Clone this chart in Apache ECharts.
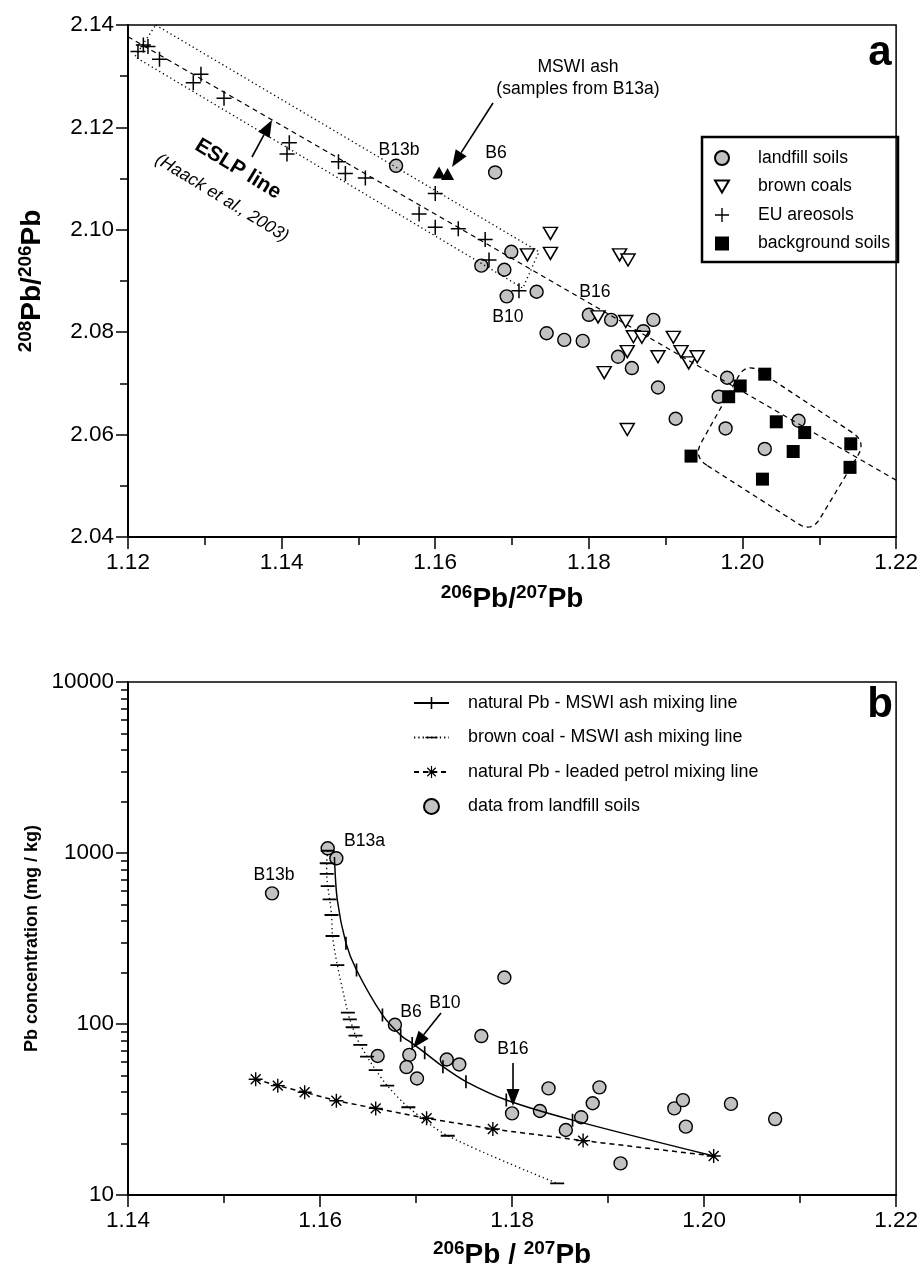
<!DOCTYPE html>
<html><head><meta charset="utf-8">
<script src="https://cdn.jsdelivr.net/npm/echarts@6/dist/echarts.min.js"></script>
<style>html,body{margin:0;padding:0;background:#fff}#c{width:921px;height:1277px}</style>
</head><body><div id="c"></div>
<script>
// ---------------- Panel a data (206Pb/207Pb , 208Pb/206Pb) ----------------
const landfillSoilsA = [[1.1549,2.1125],[1.1678,2.1112],[1.1699,2.0957],[1.1660,2.0930],[1.1690,2.0922],[1.1693,2.0870],[1.1732,2.0879],[1.1800,2.0834],[1.1829,2.0824],[1.1884,2.0824],[1.1871,2.0802],[1.1745,2.0798],[1.1768,2.0785],[1.1792,2.0783],[1.1838,2.0752],[1.1856,2.0730],[1.1890,2.0692],[1.1913,2.0631],[1.1980,2.0711],[1.1969,2.0674],[1.1978,2.0612],[1.2029,2.0572],[1.2073,2.0627]];
const brownCoals = [[1.1720,2.0951],[1.1750,2.0993],[1.1750,2.0954],[1.1840,2.0951],[1.1851,2.0941],[1.1812,2.0830],[1.1848,2.0821],[1.1858,2.0791],[1.1869,2.0790],[1.1850,2.0762],[1.1820,2.0721],[1.1890,2.0752],[1.1910,2.0790],[1.1920,2.0762],[1.1930,2.0740],[1.1941,2.0752],[1.1850,2.0610]];
const euAerosols = [[1.1213,2.1348],[1.1220,2.1361],[1.1226,2.1358],[1.1241,2.1333],[1.1285,2.1287],[1.1295,2.1304],[1.1325,2.1257],[1.1410,2.1170],[1.1407,2.1148],[1.1474,2.1133],[1.1483,2.1110],[1.1509,2.1101],[1.1600,2.1071],[1.1579,2.1031],[1.1600,2.1005],[1.1630,2.1002],[1.1665,2.0981],[1.1670,2.0941],[1.1709,2.0881]];
const backgroundSoils = [[1.2029,2.0718],[1.1997,2.0695],[1.1982,2.0674],[1.2044,2.0625],[1.2081,2.0604],[1.2066,2.0567],[1.2141,2.0582],[1.2140,2.0536],[1.1933,2.0558],[1.2026,2.0513]];
const mswiAsh = [[1.1605,2.1112],[1.1616,2.1109]];
const eslpLine = [[1.12,2.1377],[1.22,2.0511]];
const eslpBandCorners = [[1.1236,2.1400],[1.1735,2.0957],[1.1714,2.0886],[1.1209,2.1338]];
const backgroundBoxCorners = [[1.1936,2.0557],[1.2005,2.0741],[1.2161,2.0586],[1.2090,2.0409]];
const xTicksA = {min:1.12, max:1.22, step:0.02};
const yTicksA = {min:2.04, max:2.14, step:0.02};

// ---------------- Panel b data (206Pb/207Pb , Pb mg/kg) ----------------
const landfillSoilsB = [[1.1608,1065],[1.1617,931],[1.1550,581],[1.1792,187],[1.1678,99],[1.1768,85],[1.1660,65],[1.1693,66],[1.1690,56],[1.1701,48],[1.1732,62],[1.1745,58],[1.1800,30],[1.1838,42],[1.1829,31],[1.1856,24],[1.1872,28.5],[1.1884,34.4],[1.1891,42.6],[1.1913,15.3],[1.1969,32.1],[1.1978,35.9],[1.1981,25.1],[1.2028,34.1],[1.2074,27.8]];
const mixNaturalAsh = [[1.1615,948],[1.1618,531],[1.1627,297],[1.1638,207],[1.1665,113],[1.1684,86],[1.1696,77],[1.1709,68],[1.1728,56.3],[1.1752,46],[1.1794,35.9],[1.1863,27.4],[1.2010,16.9]];
const mixNaturalAshTicked = [false,false,true,true,true,true,true,true,true,true,true,true,false];
const mixCoalAsh = [[1.1608,1031],[1.1607,871],[1.1607,754],[1.1608,641],[1.1610,536],[1.1612,434],[1.1613,327],[1.1618,221],[1.1629,116.4],[1.1631,106.5],[1.1634,95.7],[1.1637,85.4],[1.1642,75.4],[1.1649,64.4],[1.1658,53.8],[1.1670,43.6],[1.1692,32.6],[1.1733,22.2],[1.1847,11.7]];
const mixNaturalPetrol = [[1.1533,47.5],[1.1556,43.6],[1.1584,39.9],[1.1617,35.6],[1.1658,32.1],[1.1711,28.1],[1.1780,24.3],[1.1874,20.8],[1.2010,16.9]];
const xTicksB = {min:1.14, max:1.22, step:0.02};
const yMajorB = [10,100,1000,10000];
const yMinorB = [20,30,40,50,60,70,80,90,200,300,400,500,600,700,800,900,2000,3000,4000,5000,6000,7000,8000,9000];

const legendNamesA = ['landfill soils','brown coals','EU areosols','background soils'];
const legendNamesB = ['natural Pb - MSWI ash mixing line','brown coal - MSWI ash mixing line','natural Pb - leaded petrol mixing line','data from landfill soils'];

// ---------------- styles ----------------
const FONT = "'Liberation Sans', Arial, Helvetica, sans-serif";
const SYM_DOWN = 'path://M0,0 L14,0 L7,12 Z';
const SYM_UP = 'path://M7,0 L14,12 L0,12 Z';
const SYM_SQUARE = 'path://M0,0 L10,0 L10,10 L0,10 Z';
const SYM_PLUS = 'path://M-0.8,-8 L0.8,-8 L0.8,-0.8 L8,-0.8 L8,0.8 L0.8,0.8 L0.8,8 L-0.8,8 L-0.8,0.8 L-8,0.8 L-8,-0.8 L-0.8,-0.8 Z';
const SYM_STAR = 'path://M-0.8,-8 L0.8,-8 L0.8,8 L-0.8,8 Z M-8,-0.8 L8,-0.8 L8,0.8 L-8,0.8 Z M-5.09,-6.23 L6.23,5.09 L5.09,6.23 L-6.23,-5.09 Z M-6.23,5.09 L5.09,-6.23 L6.23,-5.09 L-5.09,6.23 Z';
const SYM_VTICK = 'path://M6.1,0 L7.9,0 L7.9,14 L6.1,14 Z M0,7 L0.01,7 L0,7.01 Z M14,7 L13.99,7 L14,7.01 Z';
const SYM_HTICK = 'path://M0,6.1 L14,6.1 L14,7.9 L0,7.9 Z M7,0 L7.01,0 L7,0.01 Z M7,14 L7.01,14 L7,13.99 Z';

function axisBase(fmt) {
  return {
    axisLine:{show:true, onZero:false, lineStyle:{color:'#000', width:2}},
    axisTick:{show:true, inside:false, length:12, lineStyle:{color:'#000', width:1.5}},
    minorTick:{show:true, splitNumber:2, length:8, lineStyle:{color:'#000', width:1.5}},
    splitLine:{show:false},
    minorSplitLine:{show:false},
    axisLabel:{color:'#000', fontSize:22.5, fontFamily:FONT, margin:14, formatter:fmt}
  };
}
const fmt2 = v => v.toFixed(2);
const fmtLog = v => String(Math.round(v));
const titleRich = {
  s:{fontSize:19, fontWeight:'bold', fontFamily:FONT, color:'#000', verticalAlign:'top', lineHeight:19},
  b:{fontSize:28, fontWeight:'bold', fontFamily:FONT, color:'#000', lineHeight:32}
};

const option = {
  animation:false,
  backgroundColor:'#fff',
  grid:[
    {left:128, top:25, width:770, height:512, show:true, borderColor:'#000', borderWidth:1.5, backgroundColor:'transparent'},
    {left:128, top:682, width:770, height:513, show:true, borderColor:'#000', borderWidth:1.5, backgroundColor:'transparent'}
  ],
  xAxis:[
    Object.assign(axisBase(fmt2), {gridIndex:0, type:'value', min:xTicksA.min, max:xTicksA.max, interval:xTicksA.step,
      name:'{s|206}{b|Pb/}{s|207}{b|Pb}', nameLocation:'middle', nameGap:46, nameTextStyle:{rich:titleRich}}),
    Object.assign(axisBase(fmt2), {gridIndex:1, type:'value', min:xTicksB.min, max:xTicksB.max, interval:xTicksB.step,
      name:'{s|206}{b|Pb / }{s|207}{b|Pb}', nameLocation:'middle', nameGap:44, nameTextStyle:{rich:titleRich}})
  ],
  yAxis:[
    Object.assign(axisBase(fmt2), {gridIndex:0, type:'value', min:yTicksA.min, max:yTicksA.max, interval:yTicksA.step,
      name:'{s|208}{b|Pb/}{s|206}{b|Pb}', nameLocation:'middle', nameRotate:90, nameGap:80, nameTextStyle:{rich:titleRich}}),
    Object.assign(axisBase(fmtLog), {gridIndex:1, type:'log', logBase:10, min:yMajorB[0], max:yMajorB[yMajorB.length-1],
      minorTick:{show:false},
      name:'Pb concentration (mg / kg)', nameLocation:'middle', nameRotate:90, nameGap:87,
      nameTextStyle:{fontSize:18, fontWeight:'bold', fontFamily:FONT, color:'#000'}}),
    {gridIndex:1, type:'value', min:1, max:4, position:'left',
      axisLine:{show:false}, axisLabel:{show:false}, splitLine:{show:false},
      axisTick:{show:true, inside:false, length:7, lineStyle:{color:'#000', width:1.5}, customValues:yMinorB.map(v=>Math.log10(v))}}
  ],
  legend:[
    {data:legendNamesA, orient:'vertical', left:714, top:149, itemWidth:14, itemHeight:14, itemGap:10.5,
      padding:0, selectedMode:false, textStyle:{fontSize:17.6, lineHeight:18, color:'#000', fontFamily:FONT, padding:[0,0,0,24]}},
    {data:legendNamesB, orient:'vertical', left:413, top:694, itemWidth:35, itemHeight:15, itemGap:16.5,
      padding:0, selectedMode:false, textStyle:{fontSize:17.9, lineHeight:18, color:'#000', fontFamily:FONT, padding:[0,0,0,14]}}
  ],
  series:[
    // panel a scatter
    {name:'landfill soils', type:'scatter', xAxisIndex:0, yAxisIndex:0, data:landfillSoilsA, symbol:'circle', symbolSize:13,
      itemStyle:{color:'#c2c2c2', borderColor:'#000', borderWidth:1.4, opacity:1}, z:3},
    {name:'brown coals', type:'scatter', xAxisIndex:0, yAxisIndex:0, data:brownCoals, symbol:SYM_DOWN, symbolSize:[14,12],
      itemStyle:{color:'#fff', borderColor:'#000', borderWidth:1.5, opacity:1}, z:3},
    {name:'EU areosols', type:'scatter', xAxisIndex:0, yAxisIndex:0, data:euAerosols, symbol:SYM_PLUS, symbolSize:15,
      itemStyle:{color:'#000', opacity:1}, z:4},
    {name:'background soils', type:'scatter', xAxisIndex:0, yAxisIndex:0, data:backgroundSoils, symbol:SYM_SQUARE, symbolSize:13,
      itemStyle:{color:'#000', opacity:1}, z:4},
    {name:'MSWI ash', type:'scatter', xAxisIndex:0, yAxisIndex:0, data:mswiAsh, symbol:SYM_UP, symbolSize:[13,12],
      itemStyle:{color:'#000', opacity:1}, z:4},
    {name:'ESLP line', type:'line', xAxisIndex:0, yAxisIndex:0, data:eslpLine, symbol:'none', silent:true,
      lineStyle:{color:'#000', width:1.3, type:[5,4]}, z:5},
    // panel b
    {name:'data from landfill soils', type:'scatter', xAxisIndex:1, yAxisIndex:1, data:landfillSoilsB, symbol:'circle', symbolSize:13,
      itemStyle:{color:'#c2c2c2', borderColor:'#000', borderWidth:1.4, opacity:1}, z:3},
    {name:'natural Pb - MSWI ash mixing line', type:'line', xAxisIndex:1, yAxisIndex:1, smooth:0.3,
      data:mixNaturalAsh.map((p,i)=>({value:p, symbol: mixNaturalAshTicked[i] ? SYM_VTICK : 'none'})),
      symbol:SYM_VTICK, symbolSize:13, showAllSymbol:true,
      itemStyle:{color:'#000', opacity:1}, lineStyle:{color:'#000', width:1.5, type:'solid'}, z:5},
    {name:'brown coal - MSWI ash mixing line', type:'line', xAxisIndex:1, yAxisIndex:1, smooth:0.3,
      data:mixCoalAsh, symbol:SYM_HTICK, symbolSize:14, showAllSymbol:true,
      itemStyle:{color:'#000', opacity:1}, lineStyle:{color:'#000', width:1.3, type:[1.3,3]}, z:5},
    {name:'natural Pb - leaded petrol mixing line', type:'line', xAxisIndex:1, yAxisIndex:1,
      data:mixNaturalPetrol, symbol:SYM_STAR, symbolSize:14, showAllSymbol:true,
      itemStyle:{color:'#000', opacity:1}, lineStyle:{color:'#000', width:1.5, type:[5,4]}, z:5}
  ]
};

const chart = echarts.init(document.getElementById('c'), null, {renderer:'canvas'});
chart.setOption(option);

// ---------------- annotations ----------------
function txt(x, y, s, size, opts) {
  opts = opts || {};
  return {type:'text', x:x, y:y, rotation:opts.rot||0, z:100,
    style:{text:s, fontSize:size, fontFamily:FONT, fontWeight:opts.bold?'bold':'normal', fontStyle:opts.italic?'italic':'normal',
      fill:'#000', textAlign:opts.align||'center', textVerticalAlign:'middle'}};
}
function arrow(x1, y1, x2, y2) {
  const dx = x2-x1, dy = y2-y1, L = Math.sqrt(dx*dx+dy*dy), ux = dx/L, uy = dy/L;
  const hl = 17, hw = 6.5;
  const bx = x2-ux*hl, by = y2-uy*hl;
  return [
    {type:'line', z:100, shape:{x1:x1, y1:y1, x2:bx, y2:by}, style:{stroke:'#000', lineWidth:1.6}},
    {type:'polygon', z:100, shape:{points:[[x2,y2],[bx-uy*hw,by+ux*hw],[bx+uy*hw,by-ux*hw]]}, style:{fill:'#000'}}
  ];
}
// outline with rounded corners (annotation shape, pixel space, corner radius r)
function roundedOutline(pts, r, steps) {
  const n = pts.length, out = [];
  for (let i=0;i<n;i++){
    const P = pts[i], A = pts[(i-1+n)%n], C = pts[(i+1)%n];
    const la = Math.hypot(A[0]-P[0], A[1]-P[1]), lc = Math.hypot(C[0]-P[0], C[1]-P[1]);
    const a = [P[0]+r*(A[0]-P[0])/la, P[1]+r*(A[1]-P[1])/la];
    const b = [P[0]+r*(C[0]-P[0])/lc, P[1]+r*(C[1]-P[1])/lc];
    for (let k=0;k<=steps;k++){
      const s = k/steps, u = 1-s;
      out.push([u*u*a[0]+2*u*s*P[0]+s*s*b[0], u*u*a[1]+2*u*s*P[1]+s*s*b[1]]);
    }
  }
  return out;
}
const toPxA = p => chart.convertToPixel({gridIndex:0}, p);
const bandPx = eslpBandCorners.map(toPxA);
const boxPx = backgroundBoxCorners.map(toPxA);

const graphics = [
  {type:'rect', z:100, shape:{x:702, y:137, width:196, height:125}, style:{fill:'none', stroke:'#000', lineWidth:2.5}},
  {type:'polygon', z:90, shape:{points:bandPx}, style:{fill:'none', stroke:'#000', lineWidth:1.3, lineDash:[1.3,3]}},
  {type:'polygon', z:90, shape:{points:roundedOutline(boxPx, 16, 8)}, style:{fill:'none', stroke:'#000', lineWidth:1.3, lineDash:[5,4]}},
  txt(880, 53, 'a', 42, {bold:true}),
  txt(578, 67, 'MSWI ash', 17.6),
  txt(578, 89, '(samples from B13a)', 17.6),
  txt(399, 150, 'B13b', 17.6),
  txt(496, 153, 'B6', 17.6),
  txt(508, 317, 'B10', 17.6),
  txt(595, 292, 'B16', 17.6),
  txt(238, 169, 'ESLP line', 21, {bold:true, rot:-0.55}),
  txt(222, 198, '(Haack et al., 2003)', 17.5, {italic:true, rot:-0.55}),
  txt(880, 705, 'b', 42, {bold:true}),
  txt(344, 841, 'B13a', 17.6, {align:'left'}),
  txt(274, 875, 'B13b', 17.6),
  txt(411, 1012, 'B6', 17.6),
  txt(445, 1003, 'B10', 17.6),
  txt(513, 1049, 'B16', 17.6)
].concat(arrow(493,103,452,167), arrow(252,157,272,120), arrow(441,1013,413,1048), arrow(513,1063,513,1106));

chart.setOption({graphic:graphics});
</script>
</body></html>
